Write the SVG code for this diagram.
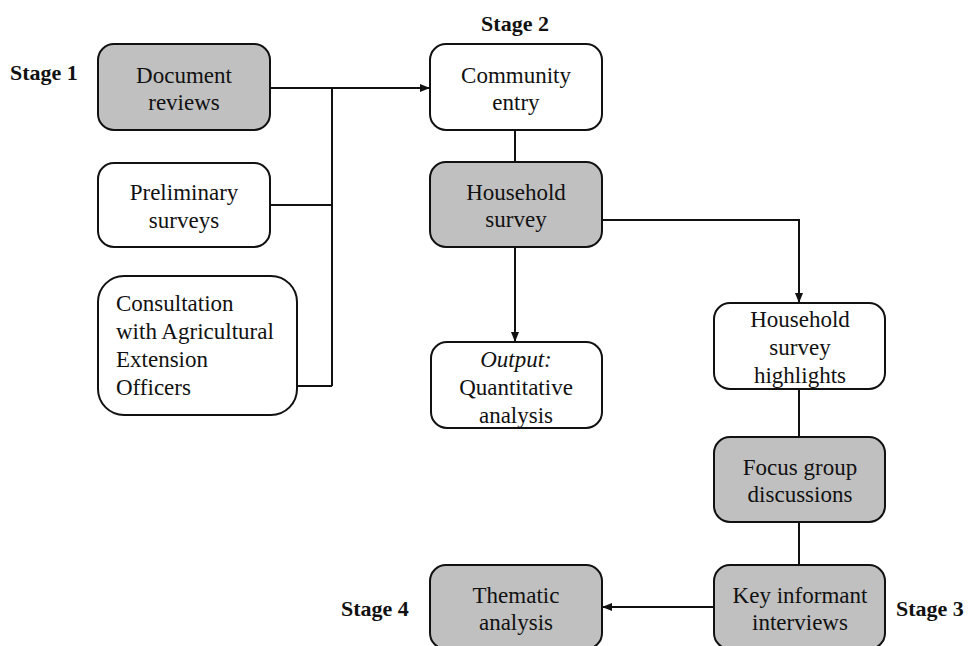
<svg xmlns="http://www.w3.org/2000/svg" width="970" height="646" viewBox="0 0 970 646">
<style>
.box{stroke:#111;stroke-width:2}
.w{fill:#ffffff}
.g{fill:#c0c0c0}
.t{font-family:"Liberation Serif","Times New Roman",serif;font-size:23px;fill:#111;text-anchor:middle}
.tl{font-family:"Liberation Serif","Times New Roman",serif;font-size:23px;fill:#111}
.st{font-family:"Liberation Serif","Times New Roman",serif;font-size:22px;font-weight:bold;fill:#111}
.c{fill:none;stroke:#111;stroke-width:2}
</style>
<defs>
<marker id="ah" markerUnits="userSpaceOnUse" markerWidth="10" markerHeight="8" refX="10" refY="4" orient="auto">
<path d="M0,0 L10,4 L0,8 z" fill="#111"/>
</marker>
</defs>
<rect width="970" height="646" fill="#ffffff"/>
<g id="labels">
<text class="st" x="10" y="80">Stage 1</text>
<text class="st" x="515" y="31" text-anchor="middle">Stage 2</text>
<text class="st" x="896" y="616">Stage 3</text>
<text class="st" x="341" y="616">Stage 4</text>
</g>
<g id="connectors">
<path class="c" d="M270,88 H430" marker-end="url(#ah)"/>
<path class="c" d="M332,88 V386"/>
<path class="c" d="M270,205 H332"/>
<path class="c" d="M297,386 H332"/>
<path class="c" d="M515,130 V162"/>
<path class="c" d="M602,220 H799 V303" marker-end="url(#ah)"/>
<path class="c" d="M515,247 V342" marker-end="url(#ah)"/>
<path class="c" d="M799,389 V437"/>
<path class="c" d="M799,522 V565"/>
<path class="c" d="M714,607 H602" marker-end="url(#ah)"/>
</g>
<g id="document-reviews">
<rect class="box g" x="98" y="44" width="172" height="86" rx="16"/>
<text class="t" x="184" y="83">Document</text>
<text class="t" x="184" y="110">reviews</text>
</g>
<g id="preliminary-surveys">
<rect class="box w" x="98" y="163" width="172" height="84" rx="16"/>
<text class="t" x="184" y="200">Preliminary</text>
<text class="t" x="184" y="228">surveys</text>
</g>
<g id="consultation">
<rect class="box w" x="98" y="276" width="199" height="139" rx="26"/>
<text class="tl" x="116" y="311">Consultation</text>
<text class="tl" x="116" y="339">with Agricultural</text>
<text class="tl" x="116" y="367">Extension</text>
<text class="tl" x="116" y="395">Officers</text>
</g>
<g id="community-entry">
<rect class="box w" x="430" y="44" width="172" height="86" rx="16"/>
<text class="t" x="516" y="83">Community</text>
<text class="t" x="516" y="110">entry</text>
</g>
<g id="household-survey">
<rect class="box g" x="430" y="162" width="172" height="85" rx="16"/>
<text class="t" x="516" y="200">Household</text>
<text class="t" x="516" y="227">survey</text>
</g>
<g id="output">
<rect class="box w" x="431" y="342" width="171" height="86" rx="16"/>
<text class="t" x="516" y="367" font-style="italic">Output:</text>
<text class="t" x="516" y="395">Quantitative</text>
<text class="t" x="516" y="423">analysis</text>
</g>
<g id="household-survey-highlights">
<rect class="box w" x="714" y="303" width="171" height="86" rx="16"/>
<text class="t" x="800" y="327">Household</text>
<text class="t" x="800" y="355">survey</text>
<text class="t" x="800" y="383">highlights</text>
</g>
<g id="focus-group">
<rect class="box g" x="714" y="437" width="171" height="85" rx="16"/>
<text class="t" x="800" y="475">Focus group</text>
<text class="t" x="800" y="502">discussions</text>
</g>
<g id="key-informant">
<rect class="box g" x="714" y="565" width="171" height="84" rx="16"/>
<text class="t" x="800" y="603">Key informant</text>
<text class="t" x="800" y="630">interviews</text>
</g>
<g id="thematic-analysis">
<rect class="box g" x="430" y="565" width="172" height="84" rx="16"/>
<text class="t" x="516" y="603">Thematic</text>
<text class="t" x="516" y="630">analysis</text>
</g>
</svg>
